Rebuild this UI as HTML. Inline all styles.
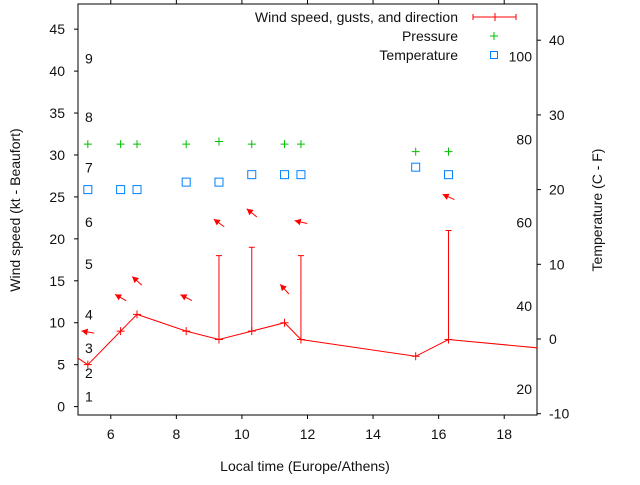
<!DOCTYPE html>
<html><head><meta charset="utf-8"><style>
body{margin:0;background:#fff}
svg text{font-family:"Liberation Sans",sans-serif;font-size:14px;fill:#111}
</style></head><body>
<svg width="640" height="480" xmlns="http://www.w3.org/2000/svg">
<g id="axes"></g>
<g id="plot"></g>
<g id="legend"></g>
<text x="305" y="471" text-anchor="middle">Local time (Europe/Athens)</text>
<text transform="translate(20,210) rotate(-90)" text-anchor="middle">Wind speed (kt - Beaufort)</text>
<text transform="translate(602,210) rotate(-90)" text-anchor="middle">Temperature (C - F)</text>
</svg>
<script>
const xTicks=[6,8,10,12,14,16,18];
const yTicks=[0,5,10,15,20,25,30,35,40,45];
const y2Ticks=[-10,0,10,20,30,40];
const beaufortLabels=["1","2","3","4","5","6","7","8","9"];
const beaufortVals=[1.2,4,7,11,17,22,28.5,34.5,41.5];
const fLabels=["20","40","60","80","100"];
const fVals=[-6.7,4.4,15.6,26.7,37.8];
const windTimes=[4.3,5.3,6.3,6.8,8.3,9.3,10.3,11.3,11.8,15.3,16.3,19.3];
const windSpeed=[7.6,5,9,11,9,8,9,10,8,6,8,6.9];
const gustTimes=[9.3,10.3,11.8,16.3];
const gustSpeed=[18,19,18,21];
const gustBase=[8,9,8,8];
const pressTimes=[5.3,6.3,6.8,8.3,9.3,10.3,11.3,11.8,15.3,16.3];
const pressVals=[31.3,31.3,31.3,31.3,31.6,31.3,31.3,31.3,30.4,30.4];
const tempTimes=[5.3,6.3,6.8,8.3,9.3,10.3,11.3,11.8,15.3,16.3];
const tempVals=[20,20,20,21,21,22,22,22,23,22];
const arrowTimes=[5.3,6.3,6.8,8.3,9.3,10.3,11.3,11.8,16.3];
const arrowY=[8.9,13,15,13,21.9,23.1,14,22,25];
const arrowAngle=[170,150,138,153,144,141,132,167,156];

const L=78,R=537,T=4,B=415;
const X=v=>L+(v-5)/(19-5)*(R-L);
const Y=v=>B-(v+1)/(48+1)*(B-T);
const Y2=v=>339-7.47*v;
const NS="http://www.w3.org/2000/svg";
function mk(p,tag,at,txt){const e=document.createElementNS(NS,tag);for(const k in at)e.setAttribute(k,at[k]);if(txt!==undefined)e.textContent=txt;p.appendChild(e);return e;}
const ax=document.getElementById('axes'),pl=document.getElementById('plot'),lg=document.getElementById('legend');
let e=mk(ax,'rect',{x:L,y:T,width:R-L,height:B-T,fill:'none',stroke:'#000','stroke-width':1});

xTicks.forEach(v=>{const x=X(v);
 mk(ax,'line',{x1:x,y1:B,x2:x,y2:B+4,stroke:'#000'});mk(ax,'line',{x1:x,y1:T,x2:x,y2:T-4,stroke:'#000'});
 e=mk(ax,'text',{x:x,y:B+24,'text-anchor':'middle'},v);});
yTicks.forEach(v=>{const y=Y(v);mk(ax,'line',{x1:L-4,y1:y,x2:L,y2:y,stroke:'#000'});
 e=mk(ax,'text',{x:L-13,y:y+5,'text-anchor':'end'},v);});
y2Ticks.forEach(v=>{const y=Y2(v);mk(ax,'line',{x1:R,y1:y,x2:R+4,y2:y,stroke:'#000'});
 e=mk(ax,'text',{x:R+12,y:y+5},v);});
beaufortLabels.forEach((t,i)=>{e=mk(ax,'text',{x:85,y:Y(beaufortVals[i])+5},t);});
fLabels.forEach((t,i)=>{e=mk(ax,'text',{x:532,y:Y2(fVals[i])+5,'text-anchor':'end'},t);});
const cp=mk(pl,'clipPath',{id:'cp'});
mk(cp,'rect',{x:L,y:T,width:R-L,height:B-T});
const g=mk(pl,'g',{'clip-path':'url(#cp)'});
e=mk(g,'polyline',{points:windTimes.map((t,i)=>X(t)+','+Y(windSpeed[i])).join(' '),fill:'none',stroke:'#f00','stroke-width':1});

windTimes.forEach((t,i)=>{const x=X(t),y=Y(windSpeed[i]);const p=mk(g,'path',{d:`M${x-4},${y}h8M${x},${y-4}v8`,stroke:'#f00'});
 });
gustTimes.forEach((t,i)=>{const x=X(t);const p=mk(g,'path',{d:`M${x},${Y(gustBase[i])}V${Y(gustSpeed[i])}M${x-3},${Y(gustSpeed[i])}h6`,stroke:'#f00'});
 });
pressTimes.forEach((t,i)=>{const x=X(t),y=Y(pressVals[i]);const p=mk(g,'path',{d:`M${x-4},${y}h8M${x},${y-4}v8`,stroke:'#00c000'});
 });
tempTimes.forEach((t,i)=>{const x=X(t),y=Y2(tempVals[i]);const p=mk(g,'rect',{x:x-4,y:y-4,width:8,height:8,fill:'none',stroke:'#0080ff'});
 });
arrowTimes.forEach((t,i)=>{const cx=X(t),cy=Y(arrowY[i]),a=arrowAngle[i]*Math.PI/180,l=6.5;
 const hx=cx+l*Math.cos(a),hy=cy-l*Math.sin(a),tx=cx-l*Math.cos(a),ty=cy+l*Math.sin(a);
 const b1=a+Math.PI-0.5,b2=a+Math.PI+0.5,h=7;
 const p=mk(g,'g',{});
 mk(p,'line',{x1:tx,y1:ty,x2:hx,y2:hy,stroke:'#f00'});
 mk(p,'polygon',{points:`${hx},${hy} ${hx+h*Math.cos(b1)},${hy-h*Math.sin(b1)} ${hx+h*Math.cos(b2)},${hy-h*Math.sin(b2)}`,fill:'#f00'});});
e=mk(lg,'text',{x:458,y:22,'text-anchor':'end'},'Wind speed, gusts, and direction');
e=mk(lg,'path',{d:'M473,17h43M473,14v6M516,14v6M495,13v8',stroke:'#f00'});
e=mk(lg,'text',{x:458,y:41,'text-anchor':'end'},'Pressure');
e=mk(lg,'path',{d:'M490,36h8M494,32v8',stroke:'#00c000'});
e=mk(lg,'text',{x:458,y:60,'text-anchor':'end'},'Temperature');
e=mk(lg,'rect',{x:490.5,y:51.5,width:7,height:7,fill:'none',stroke:'#0080ff'});
</script>
</body></html>
